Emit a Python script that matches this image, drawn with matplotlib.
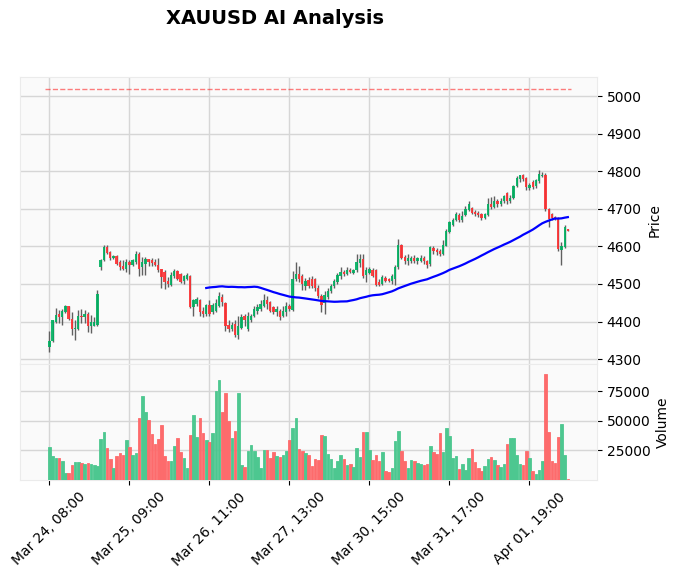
import matplotlib
matplotlib.use("Agg")
import matplotlib.pyplot as plt
import numpy as np

TITLE = "XAUUSD AI Analysis"
TICK_LABELS = ["Mar 24, 08:00", "Mar 25, 09:00", "Mar 26, 11:00", "Mar 27, 13:00",
               "Mar 30, 15:00", "Mar 31, 17:00", "Apr 01, 19:00"]
TICK_STEP = 25
MAV = 50
TARGET = 5018

opens = [
    4332, 4347, 4400, 4420, 4412, 4425, 4440, 4407, 4380, 4380,
    4416, 4412, 4421, 4389, 4388, 4390, 4545, 4563, 4598, 4585,
    4569, 4574, 4558, 4547, 4540, 4558, 4551, 4558, 4580, 4545,
    4552, 4567, 4563, 4558, 4551, 4539, 4532, 4508, 4497, 4520,
    4535, 4526, 4508, 4514, 4522, 4438, 4447, 4456, 4429, 4420,
    4444, 4425, 4429, 4442, 4465, 4448, 4392, 4381, 4394, 4363,
    4382, 4416, 4381, 4403, 4416, 4429, 4434, 4442, 4456, 4451,
    4438, 4425, 4429, 4416, 4425, 4442, 4431, 4512, 4527, 4522,
    4494, 4510, 4513, 4512, 4490, 4468, 4448, 4465, 4480, 4494,
    4505, 4520, 4533, 4527, 4538, 4530, 4536, 4556, 4567, 4524,
    4530, 4538, 4536, 4506, 4500, 4515, 4513, 4509, 4513, 4545,
    4604, 4572, 4560, 4562, 4570, 4560, 4562, 4570, 4562, 4552,
    4596, 4590, 4588, 4580, 4602, 4638, 4658, 4671, 4684, 4670,
    4683, 4698, 4703, 4692, 4690, 4685, 4675, 4684, 4714, 4706,
    4722, 4712, 4720, 4743, 4720, 4728, 4760, 4780, 4789, 4782,
    4756, 4772, 4760, 4774, 4788, 4790, 4700, 4687, 4678, 4676,
    4591, 4598, 4645]
highs = [
    4374, 4404, 4436, 4432, 4434, 4443, 4441, 4425, 4403, 4432,
    4434, 4432, 4425, 4418, 4412, 4485, 4567, 4603, 4603, 4587,
    4576, 4576, 4565, 4563, 4567, 4565, 4567, 4587, 4585, 4572,
    4572, 4567, 4569, 4567, 4569, 4540, 4536, 4518, 4533, 4540,
    4538, 4530, 4524, 4528, 4525, 4460, 4465, 4460, 4438, 4447,
    4456, 4450, 4460, 4478, 4472, 4452, 4403, 4398, 4403, 4416,
    4420, 4420, 4425, 4420, 4442, 4447, 4456, 4473, 4469, 4455,
    4442, 4442, 4434, 4442, 4451, 4446, 4535, 4558, 4549, 4526,
    4515, 4518, 4520, 4516, 4496, 4473, 4480, 4490, 4500, 4512,
    4530, 4545, 4538, 4545, 4542, 4540, 4580, 4580, 4580, 4545,
    4545, 4542, 4540, 4512, 4525, 4520, 4516, 4527, 4550, 4620,
    4607, 4577, 4580, 4575, 4578, 4573, 4576, 4574, 4565, 4602,
    4600, 4595, 4593, 4618, 4645, 4668, 4676, 4691, 4688, 4694,
    4708, 4720, 4705, 4697, 4694, 4690, 4690, 4730, 4732, 4735,
    4726, 4728, 4738, 4746, 4738, 4763, 4787, 4790, 4792, 4784,
    4770, 4776, 4780, 4803, 4798, 4796, 4702, 4690, 4681, 4678,
    4611, 4656, 4647]
lows = [
    4320, 4345, 4396, 4396, 4391, 4423, 4403, 4363, 4352, 4378,
    4396, 4396, 4372, 4370, 4388, 4389, 4536, 4560, 4580, 4565,
    4567, 4551, 4536, 4536, 4533, 4527, 4549, 4554, 4521, 4524,
    4524, 4549, 4549, 4547, 4531, 4489, 4487, 4493, 4495, 4516,
    4510, 4503, 4500, 4510, 4436, 4416, 4440, 4416, 4411, 4416,
    4416, 4420, 4425, 4438, 4440, 4376, 4373, 4375, 4358, 4354,
    4381, 4389, 4376, 4398, 4411, 4420, 4429, 4438, 4434, 4425,
    4420, 4416, 4405, 4411, 4416, 4428, 4429, 4508, 4506, 4485,
    4485, 4488, 4490, 4482, 4462, 4425, 4420, 4460, 4475, 4490,
    4500, 4512, 4522, 4524, 4530, 4526, 4533, 4545, 4516, 4505,
    4527, 4518, 4494, 4494, 4498, 4506, 4505, 4500, 4496, 4540,
    4566, 4552, 4550, 4555, 4556, 4552, 4558, 4553, 4542, 4548,
    4580, 4578, 4574, 4578, 4600, 4635, 4654, 4668, 4665, 4665,
    4680, 4694, 4685, 4680, 4678, 4670, 4672, 4682, 4700, 4703,
    4706, 4708, 4716, 4712, 4715, 4725, 4757, 4772, 4775, 4750,
    4750, 4754, 4756, 4770, 4785, 4694, 4652, 4671, 4670, 4589,
    4551, 4597, 4640]
closes = [
    4349, 4403, 4418, 4412, 4427, 4440, 4407, 4380, 4383, 4416,
    4412, 4421, 4388, 4399, 4400, 4474, 4563, 4598, 4583, 4569,
    4574, 4554, 4545, 4540, 4558, 4551, 4563, 4580, 4540, 4558,
    4567, 4558, 4556, 4551, 4536, 4518, 4505, 4500, 4525, 4535,
    4513, 4506, 4520, 4524, 4438, 4456, 4460, 4425, 4420, 4444,
    4420, 4445, 4450, 4467, 4451, 4389, 4381, 4392, 4363, 4389,
    4412, 4403, 4416, 4416, 4434, 4438, 4447, 4456, 4447, 4427,
    4425, 4434, 4411, 4429, 4442, 4434, 4513, 4527, 4512, 4500,
    4508, 4494, 4494, 4490, 4468, 4445, 4470, 4482, 4494, 4508,
    4524, 4533, 4527, 4536, 4533, 4536, 4558, 4567, 4520, 4538,
    4540, 4522, 4496, 4498, 4518, 4509, 4509, 4522, 4545, 4604,
    4570, 4560, 4568, 4570, 4562, 4568, 4570, 4560, 4550, 4598,
    4587, 4585, 4580, 4604, 4640, 4665, 4671, 4685, 4670, 4680,
    4700, 4712, 4690, 4686, 4683, 4675, 4685, 4712, 4706, 4722,
    4712, 4722, 4734, 4720, 4730, 4760, 4783, 4789, 4780, 4758,
    4764, 4758, 4776, 4794, 4791, 4700, 4674, 4676, 4673, 4594,
    4600, 4651, 4641]
volumes = [
    27800, 20200, 18500, 18500, 16000, 5900, 5900, 12600, 15200, 15200,
    14300, 13500, 14300, 13500, 12600, 11800, 34600, 40400, 26700, 17700,
    10100, 20200, 22800, 21100, 33700, 27800, 21100, 22800, 52200, 70800,
    57300, 50600, 38800, 30300, 34600, 46300, 20200, 16000, 16000, 28700,
    35400, 23600, 18500, 10100, 37900, 54800, 36200, 52200, 39600, 33700,
    32000, 39600, 75000, 84300, 57300, 73300, 49700, 35400, 41300, 73300,
    12600, 11000, 24400, 29500, 24400, 19100, 10100, 25300, 25300, 18500,
    23600, 20200, 19400, 21100, 24400, 33700, 43800, 52200, 26100, 24400,
    22800, 21100, 11800, 17700, 16900, 37900, 37100, 21900, 17700, 10100,
    16000, 21100, 17700, 12600, 13500, 11000, 26700, 19400, 40400, 40400,
    25300, 16900, 21100, 16000, 23600, 7600, 6700, 10100, 32900, 41300,
    24400, 16000, 10100, 16900, 16000, 14300, 13500, 12600, 13500, 28700,
    23600, 22000, 40000, 23900, 43700, 36900, 18700, 20400, 9400, 13600,
    8500, 18700, 26400, 15300, 10200, 7700, 11900, 17900, 19600, 17000,
    12800, 11100, 13600, 30700, 35800, 35800, 21300, 13600, 12800, 24700,
    18700, 7700, 5100, 8500, 16200, 89500, 40900, 16200, 14500, 36600,
    47700, 21300, 900]

UP = "#00b060"
DOWN = "#fe3032"
VUP = "#4dc790"
VDOWN = "#fd6b6c"
WICK = "#606060"
GRID = "#d6d6d6"
FACE = "#fafafa"


def style_axes(ax):
    ax.set_facecolor(FACE)
    ax.grid(True, color=GRID, linewidth=1.0)
    ax.set_axisbelow(True)
    for s in ax.spines.values():
        s.set_color("#ebebeb")
    ax.yaxis.tick_right()
    ax.yaxis.set_label_position("right")
    ax.tick_params(labelsize=10, length=3.5)


def main():

    o = np.array(opens, dtype=float)
    h = np.array(highs, dtype=float)
    l = np.array(lows, dtype=float)
    c = np.array(closes, dtype=float)
    v = np.array(volumes, dtype=float)
    x = np.arange(len(c))
    up = c >= o

    fig = plt.figure(figsize=(6.78, 5.77), dpi=100)
    ax = fig.add_axes([0.0295, 0.3692, 0.851, 0.4974])
    axv = fig.add_axes([0.0295, 0.1681, 0.851, 0.2010], sharex=ax)

    style_axes(ax)
    style_axes(axv)

    # candles: wicks first, bodies on top
    ax.vlines(x, l, h, color=WICK, linewidth=1.0, zorder=2)
    body = np.maximum(np.abs(c - o), 0.8)
    ax.bar(x, body, bottom=np.minimum(o, c), width=0.72,
           color=np.where(up, UP, DOWN), alpha=0.9, linewidth=0, zorder=3)

    # moving average
    ma = np.convolve(c, np.ones(MAV) / MAV, mode="valid")
    ax.plot(x[MAV - 1:], ma, color="blue", linewidth=1.6, zorder=4)

    # target line
    ax.hlines(TARGET, -1.3, len(c), colors="red", linestyles="--", linewidth=1.0, alpha=0.5)

    ax.set_ylim(4287, 5051)
    ax.set_yticks(np.arange(4300, 5001, 100))
    ax.set_ylabel("Price", fontsize=10)
    ax.tick_params(axis="x", bottom=False, labelbottom=False)

    # volume
    axv.bar(x, v, width=0.8, color=np.where(up, VUP, VDOWN),
            edgecolor=np.where(up, VUP, VDOWN), linewidth=0.6, zorder=3)
    axv.set_ylim(0, v.max() * 1.095)
    axv.set_yticks([25000, 50000, 75000])
    axv.set_yticklabels(["25000", "50000", "75000"])
    axv.set_ylabel("Volume", fontsize=10)

    ticks = np.arange(0, len(TICK_LABELS) * TICK_STEP, TICK_STEP)
    axv.set_xticks(ticks)
    axv.set_xticklabels(TICK_LABELS, rotation=45, fontsize=10)
    axv.set_xlim(-9.2, 171.1)

    fig.text(275 / 678, 1 - 18 / 577, TITLE, ha="center", va="center",
             fontsize=14, fontweight="bold")

    fig.savefig("out.png", dpi=100)


if __name__ == "__main__":
    main()
